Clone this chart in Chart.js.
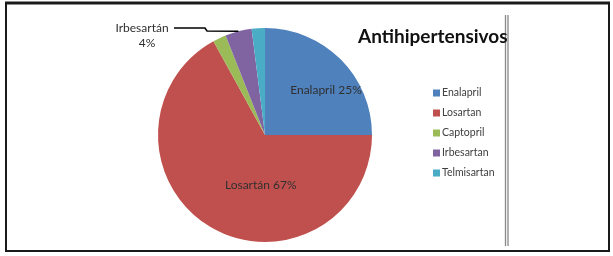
<!DOCTYPE html>
<html><head><meta charset="utf-8">
<script src="https://cdn.jsdelivr.net/npm/chart.js@4"></script>
<style>html,body{margin:0;padding:0;background:#fff}#c{display:block}</style>
</head><body>
<canvas id="c" width="613" height="256"></canvas>
<script>
const categories = ['Enalapril','Losartan','Captopril','Irbesartan','Telmisartan'];
const values = [25, 67, 2, 4, 2];
const sliceLabels = ['Enalapril 25%','Losartán 67%','','Irbesartán\n4%',''];
const colors = ['#4F81BD','#C0504D','#9BBB59','#8064A2','#4BACC6'];
const titleText = 'Antihipertensivos';
const FONT = 'Lato, "Open Sans", sans-serif';

const deco = {
  id:'deco',
  afterDraw(chart){
    const ctx = chart.ctx;
    const meta = chart.getDatasetMeta(0);
    ctx.save();
    // frame
    ctx.strokeStyle='#1a1a1a';
    ctx.lineWidth=3; ctx.beginPath(); ctx.moveTo(5,3); ctx.lineTo(610,3); ctx.stroke();
    ctx.lineWidth=2;
    ctx.beginPath(); ctx.moveTo(6,3); ctx.lineTo(6,251); ctx.lineTo(609,251); ctx.lineTo(609,3); ctx.stroke();
    // double line
    ctx.strokeStyle='#888'; ctx.lineWidth=1.3;
    ctx.beginPath(); ctx.moveTo(505.5,15); ctx.lineTo(505.5,246); ctx.moveTo(508,15); ctx.lineTo(508,246); ctx.stroke();
    // title
    ctx.fillStyle='#111'; ctx.font='bold 19px '+FONT; ctx.textAlign='left'; ctx.textBaseline='middle';
    ctx.fillText(titleText, 358, 37);
    // legend
    ctx.font='10.5px '+FONT;
    categories.forEach((c,i)=>{
      const y = 93 + i*20;
      ctx.fillStyle=colors[i]; ctx.fillRect(433, y-3.5, 7, 7);
      ctx.fillStyle='#404040'; ctx.fillText(c, 442, y);
    });
    // slice labels
    const arcs = meta.data;
    const cx = arcs[0].x, cy = arcs[0].y, r = arcs[0].outerRadius;
    ctx.fillStyle='#303030'; ctx.font='12px '+FONT; ctx.textAlign='center';
    // Enalapril
    ctx.fillText(sliceLabels[0], cx+0.57*r, cy-0.42*r);
    // Losartan
    ctx.fillText(sliceLabels[1], cx-0.04*r, cy+0.47*r);
    // Irbesartan with leader line
    const a = arcs[3];
    const mid = (a.startAngle+a.endAngle)/2;
    const ex = cx + Math.cos(mid)*r, ey = cy + Math.sin(mid)*r;
    const lines = sliceLabels[3].split('\n');
    ctx.fillText(lines[0], 142, 28);
    ctx.fillText(lines[1], 147, 43);
    ctx.strokeStyle='#000'; ctx.lineWidth=1.5;
    ctx.beginPath(); ctx.moveTo(174,28); ctx.lineTo(205,28); ctx.lineTo(207,31); ctx.lineTo(ex,ey); ctx.stroke();
    ctx.restore();
  }
};

new Chart(document.getElementById('c'), {
  type:'pie',
  data:{labels:categories, datasets:[{data:values, backgroundColor:colors, borderWidth:0}]},
  options:{
    responsive:false, animation:false,
    layout:{padding:{left:158, right:241, top:28, bottom:14}},
    plugins:{legend:{display:false}, tooltip:{enabled:false}, title:{display:false}}
  },
  plugins:[deco]
});
</script>
</body></html>
